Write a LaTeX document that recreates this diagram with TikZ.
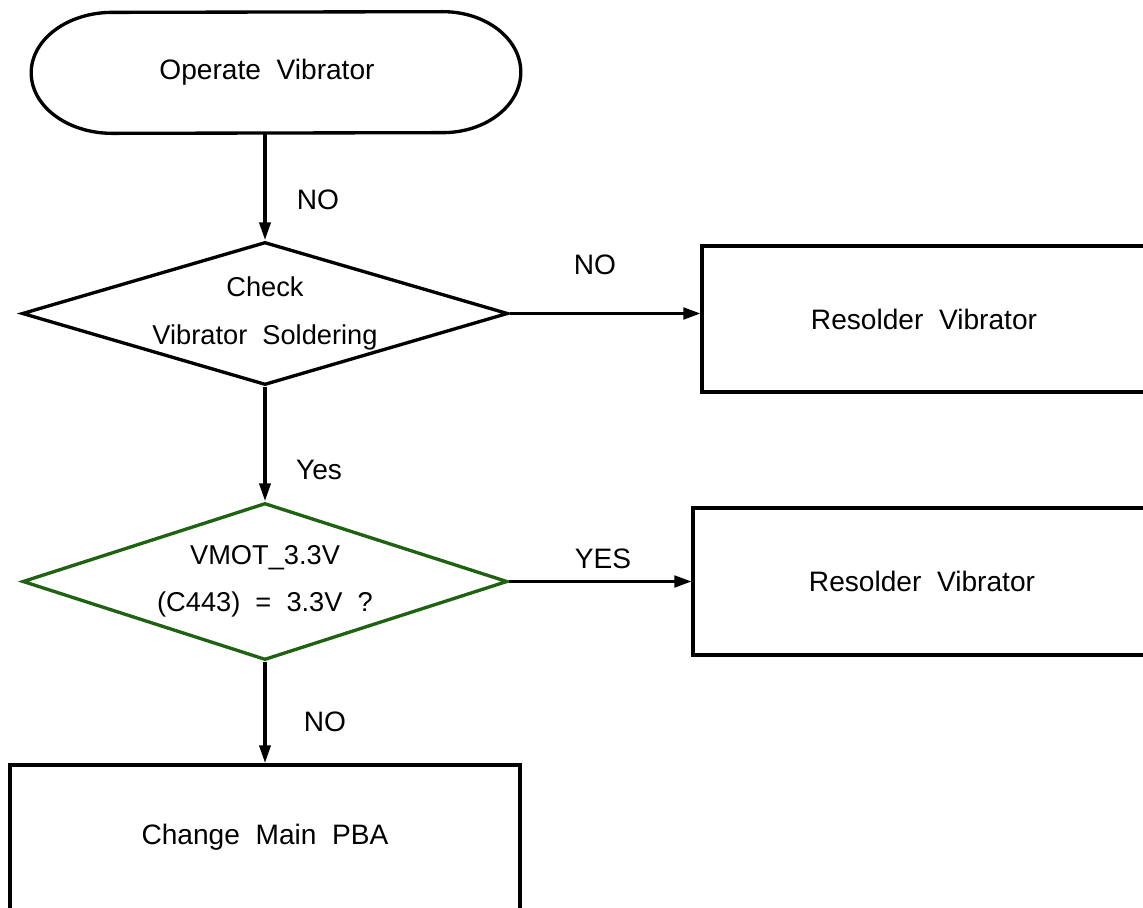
\documentclass[tikz,border=0pt]{standalone}
\usepackage{fontspec}
\setmainfont{Liberation Sans}
\usetikzlibrary{shapes.geometric,arrows.meta,positioning}
\definecolor{chkgreen}{RGB}{30,98,18}

\tikzset{
	flowtext/.style={font=\fontsize{16}{27}\selectfont, align=center, inner sep=0pt},
	procbox/.style={flowtext, draw, line width=2pt, rectangle},
	decide/.style={flowtext, font=\fontsize{15.5}{27}\selectfont, draw, line width=1.9pt, diamond, aspect=3.4},
	flowarrow/.style={line width=2.1pt, -{Triangle[length=0.36cm, width=0.22cm]}},
	sidearrow/.style={line width=1.2pt, -{Triangle[length=0.34cm, width=0.24cm]}},
	lbl/.style={font=\fontsize{16}{18}\selectfont, inner sep=0pt}
}

\begin{document}
\begin{tikzpicture}[x=0.02cm, y=-0.02cm]
	\useasboundingbox (0,0) rectangle (1143,907);

	\node[flowtext, minimum width=9.78cm, minimum height=2.42cm] (start) at (276,72.5) {\hspace*{-0.36cm}Operate~~Vibrator};
	\draw[line width=1.9pt] ([xshift=1.62cm]start.south west) arc[start angle=270, end angle=90, x radius=1.62cm, y radius=1.21cm]
		-- ([xshift=-1.56cm]start.north east) arc[start angle=90, end angle=-90, x radius=1.56cm, y radius=1.21cm] -- cycle;

	\node[decide, minimum width=9.72cm, minimum height=2.86cm] (chk) at (265,313.5) {Check\\Vibrator~~Soldering};
	\node[procbox, minimum width=8.88cm, minimum height=2.92cm] (resA) at (924,319) {Resolder~~Vibrator};

	\node[decide, draw=chkgreen, minimum width=9.7cm, minimum height=3.14cm] (vmot) at (265,581.5) {VMOT\_3.3V\\(C443)~~=~~3.3V~~?};
	\node[procbox, minimum width=9.16cm, minimum height=2.94cm] (resB) at (922,581.5) {Resolder~~Vibrator};

	\node[procbox, minimum width=10.2cm, minimum height=2.9cm] (pba) at (265,837.5) {Change~~Main~~PBA};

	\draw[flowarrow] (chk.north |- start.south) -- (chk.north);
	\draw[sidearrow] (chk.east) -- (chk.east -| resA.west);
	\draw[flowarrow] (chk.south) -- (vmot.north);
	\draw[sidearrow] (vmot.east) -- (resB.west);
	\draw[flowarrow] (vmot.south) -- (pba.north);

	\node[lbl] (noA) at (318,200) {NO};
	\node[lbl] (noB) at (595,265) {NO};
	\node[lbl] (yesA) at (319,470) {Yes};
	\node[lbl] (yesB) at (603,559) {YES};
	\node[lbl] (noC) at (325,722) {NO};
\end{tikzpicture}
\end{document}
